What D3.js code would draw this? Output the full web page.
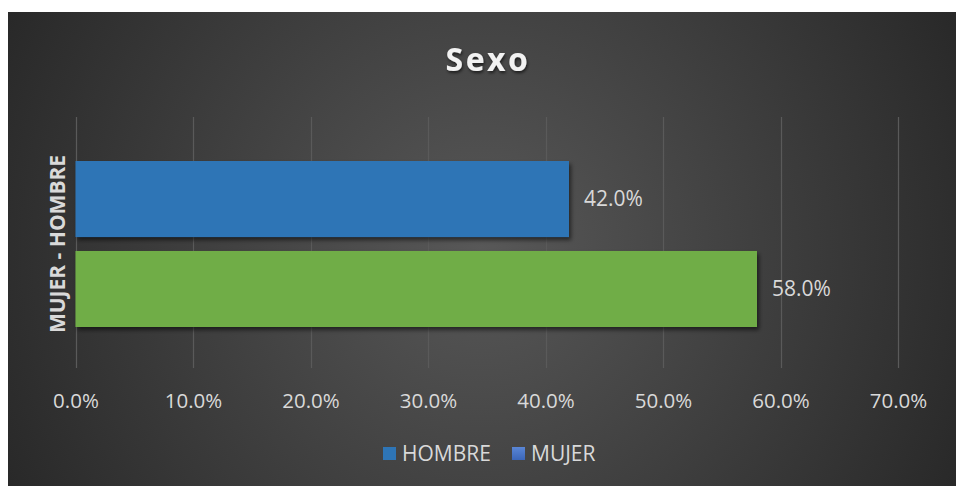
<!DOCTYPE html>
<html><head><meta charset="utf-8">
<script src="https://cdn.jsdelivr.net/npm/d3@7"></script>
<style>html,body{margin:0;padding:0;background:#fff;}svg{display:block;}</style>
</head><body>
<svg id="c" width="956" height="486"></svg>
<script>
const title = "Sexo";
const category = "MUJER - HOMBRE";
const seriesNames = ["HOMBRE", "MUJER"];
const seriesValues = [0.42, 0.58];
const seriesColors = ["#2E75B6", "#70AD47"];
const legendColors = ["#2E75B6", "#4472C4"];
const ticks = [0, 0.1, 0.2, 0.3, 0.4, 0.5, 0.6, 0.7];

const svg = d3.select("#c");
const font = "'Open Sans', 'Liberation Sans', sans-serif";
const defs = svg.append("defs");
const rg = defs.append("radialGradient").attr("id","bg").attr("gradientUnits","userSpaceOnUse")
  .attr("cx",482).attr("cy",250).attr("r",560);
rg.append("stop").attr("offset","0%").attr("stop-color","#585858");
rg.append("stop").attr("offset","100%").attr("stop-color","#262626");
const sh = defs.append("filter").attr("id","sh").attr("x","-10%").attr("y","-10%").attr("width","130%").attr("height","140%");
sh.append("feDropShadow").attr("dx",2).attr("dy",3).attr("stdDeviation",2).attr("flood-color","#000").attr("flood-opacity",0.55);
const tsh = defs.append("filter").attr("id","tsh");
tsh.append("feDropShadow").attr("dx",1).attr("dy",2).attr("stdDeviation",1.5).attr("flood-color","#000").attr("flood-opacity",0.6);
const lg = defs.append("linearGradient").attr("id","lg2").attr("x1",0).attr("y1",0).attr("x2",0).attr("y2",1);
lg.append("stop").attr("offset","0%").attr("stop-color","#5a86d6");
lg.append("stop").attr("offset","100%").attr("stop-color","#3b66b8");

svg.append("rect").attr("x",8).attr("y",12).attr("width",948).attr("height",474).attr("fill","url(#bg)");

const x = d3.scaleLinear().domain([0,0.7]).range([75.5, 898]);
const y0 = d3.scaleBand().domain([category]).range([117, 368]);
const y1 = d3.scaleBand().domain(seriesNames).range([y0(category)+44, y0(category)+44+166]).paddingInner(0.155);

// gridlines
svg.append("g").selectAll("line").data(ticks).join("line")
  .attr("x1",d=>Math.round(x(d))+0.5).attr("x2",d=>Math.round(x(d))+0.5)
  .attr("y1",117).attr("y2",368)
  .attr("stroke","#5a5a5a").attr("stroke-width",1.2);

// axis labels
const ax = svg.append("g").attr("transform","translate(0,401)")
  .call(d3.axisBottom(x).tickValues(ticks).tickFormat(d3.format(".1%")).tickSize(0).tickPadding(0));
ax.select(".domain").remove();
ax.selectAll("text").attr("fill","#d9d9d9").attr("font-family",font).attr("font-size",20.5)
  .attr("dy","0.35em");

// bars
svg.append("g").selectAll("rect").data(seriesNames).join("rect")
  .attr("x",x(0)).attr("y",(d)=>y1(d))
  .attr("width",(d,i)=>x(seriesValues[i])-x(0)).attr("height",y1.bandwidth())
  .attr("fill",(d,i)=>seriesColors[i]).attr("filter","url(#sh)");

// data labels
svg.append("g").selectAll("text").data(seriesNames).join("text")
  .attr("x",(d,i)=>x(seriesValues[i])+15).attr("y",d=>y1(d)+y1.bandwidth()/2)
  .attr("dy","0.35em").attr("fill","#d9d9d9").attr("font-family",font).attr("font-size",21)
  .text((d,i)=>d3.format(".1%")(seriesValues[i]));

// title
svg.append("text").attr("x",488).attr("y",60).attr("dy","0.35em").attr("text-anchor","middle")
  .attr("fill","#f2f2f2").attr("font-family",font).attr("font-weight","bold").attr("font-size",32)
  .attr("letter-spacing",2.5).attr("filter","url(#tsh)").text(title);

// y axis title
svg.append("text").attr("transform","translate(58,244) rotate(-90)").attr("text-anchor","middle")
  .attr("dy","0.35em").attr("fill","#d9d9d9").attr("font-family",font).attr("font-weight","bold")
  .attr("font-size",21).text(category);

// legend
const legX = [383, 512];
const leg = svg.append("g").selectAll("g").data(seriesNames).join("g")
  .attr("transform",(d,i)=>`translate(${legX[i]},447)`);
leg.append("rect").attr("width",13).attr("height",13).attr("fill",(d,i)=>i===1?"url(#lg2)":legendColors[i]);
leg.append("text").attr("x",19).attr("y",6.5).attr("dy","0.35em").attr("fill","#d9d9d9")
  .attr("font-family",font).attr("font-size",21).text(d=>d);
</script>
</body></html>
